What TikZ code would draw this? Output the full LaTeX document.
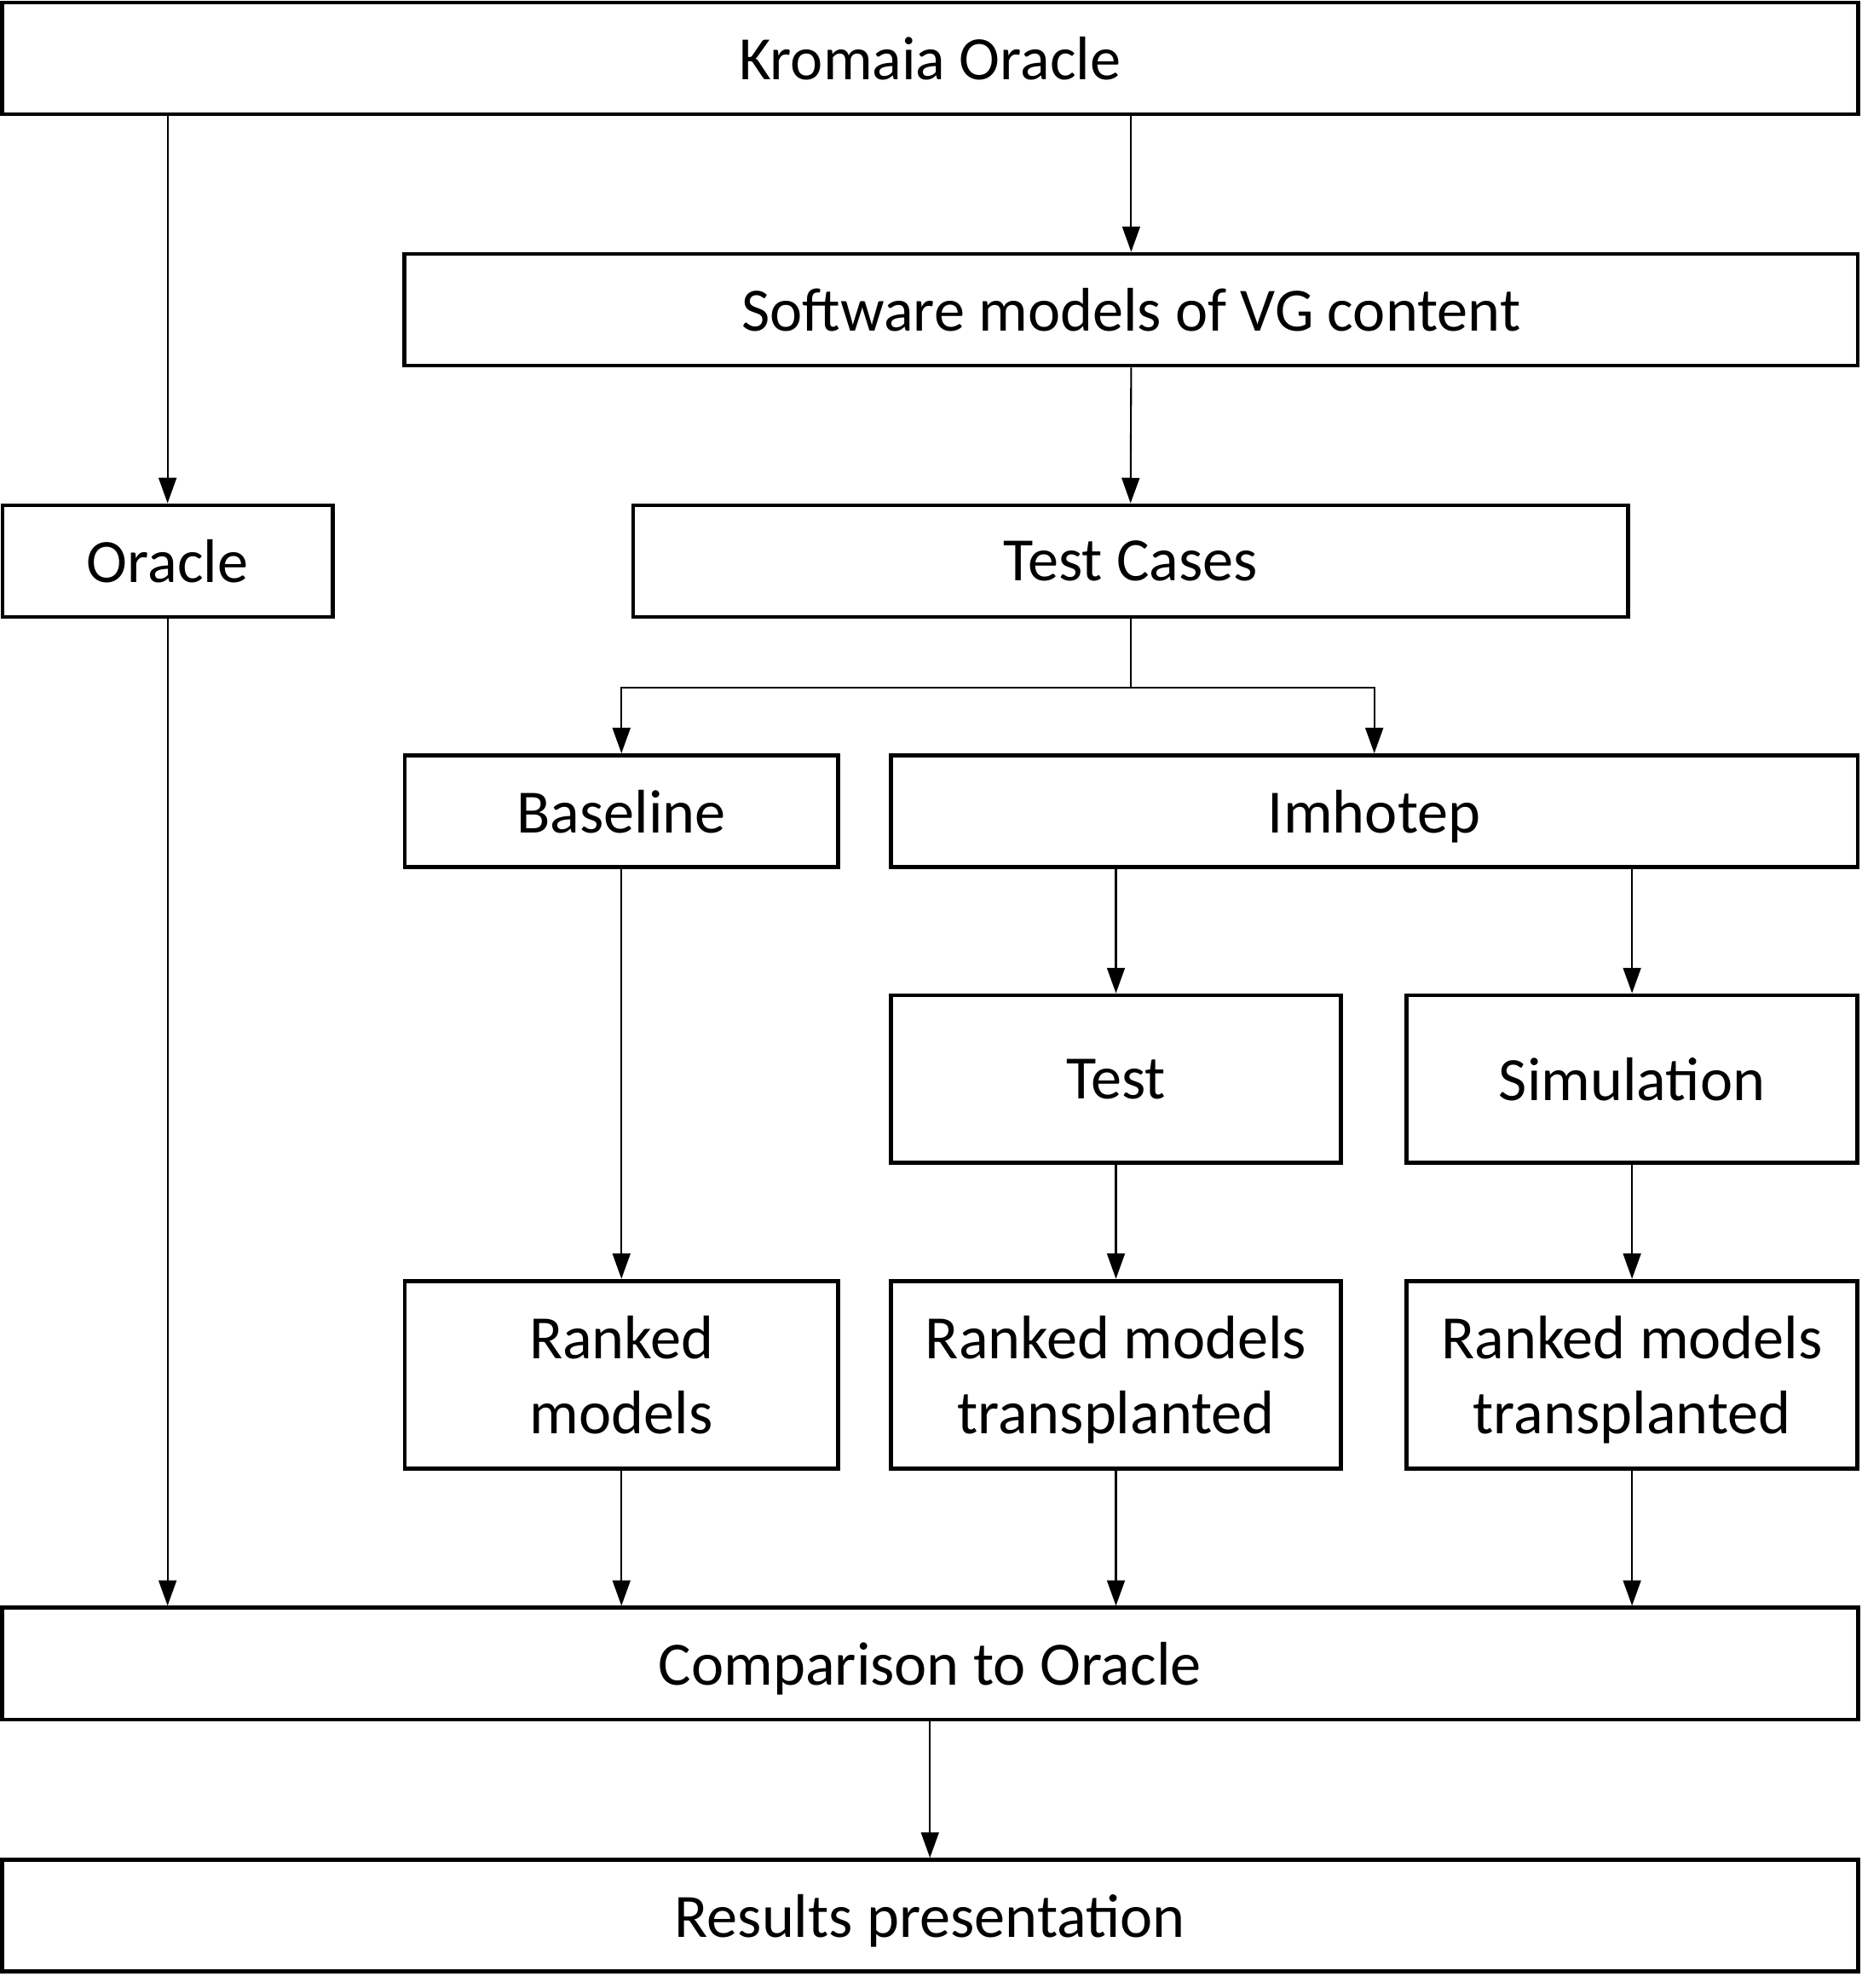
\documentclass[tikz,border=0pt]{standalone}
\usepackage{fontspec}
\setmainfont{Carlito}
\usetikzlibrary{arrows.meta}
\tikzset{
  box/.style={draw, line width=0.9pt, rectangle, align=center, inner sep=0pt,
    text depth=0pt, minimum height=0.88cm, font=\fontsize{13.8}{16.8}\selectfont},
  conn/.style={line width=0.4pt, -{Triangle[length=2mm,width=1.4mm]}}
}
\begin{document}
\begin{tikzpicture}[x=0.01cm,y=-0.01cm]
  \useasboundingbox (0,0) rectangle (1466,1566);
  \node[box, minimum width=14.61cm] (kromaia) at (732.5,46) {Kromaia Oracle};
  \node[box, minimum width=11.44cm] (software) at (891,244) {Software models of VG content};
  \node[box, minimum width=2.60cm] (oracle) at (132,442) {Oracle};
  \node[box, minimum width=7.83cm] (testcases) at (890.5,442) {Test Cases};
  \node[box, minimum width=3.41cm] (baseline) at (489.5,639) {Baseline};
  \node[box, minimum width=7.61cm] (imhotep) at (1082.5,639) {Imhotep};
  \node[box, minimum width=3.54cm, minimum height=1.32cm] (test) at (879,850) {Test};
  \node[box, minimum width=3.55cm, minimum height=1.32cm] (simulation) at (1285.5,850) {Simulation};
  \node[box, minimum width=3.41cm, minimum height=1.48cm] (ranked) at (489.5,1083) {Ranked\\models};
  \node[box, minimum width=3.54cm, minimum height=1.48cm] (rankedtest) at (879,1083) {Ranked models\\transplanted};
  \node[box, minimum width=3.55cm, minimum height=1.48cm] (rankedsim) at (1285.5,1083) {Ranked models\\transplanted};
  \node[box, minimum width=14.61cm] (comparison) at (732.5,1310.5) {Comparison to Oracle};
  \node[box, minimum width=14.61cm] (results) at (732.5,1509) {Results presentation};

  \draw[conn] (kromaia.south -| oracle.north) -- (oracle.north);
  \draw[conn] (kromaia.south -| software.north) -- (software.north);
  \draw[conn] (software.south) -- (testcases.north);
  \draw[conn] (testcases.south) -- ++(0,54) -| (baseline.north);
  \draw[conn] (testcases.south) -- ++(0,54) -| (imhotep.north);
  \draw[conn] (imhotep.south -| test.north) -- (test.north);
  \draw[conn] (imhotep.south -| simulation.north) -- (simulation.north);
  \draw[conn] (baseline.south) -- (ranked.north);
  \draw[conn] (test.south) -- (rankedtest.north);
  \draw[conn] (simulation.south) -- (rankedsim.north);
  \draw[conn] (oracle.south) -- (oracle.south |- comparison.north);
  \draw[conn] (ranked.south) -- (ranked.south |- comparison.north);
  \draw[conn] (rankedtest.south) -- (rankedtest.south |- comparison.north);
  \draw[conn] (rankedsim.south) -- (rankedsim.south |- comparison.north);
  \draw[conn] (comparison.south) -- (results.north);
\end{tikzpicture}
\end{document}
